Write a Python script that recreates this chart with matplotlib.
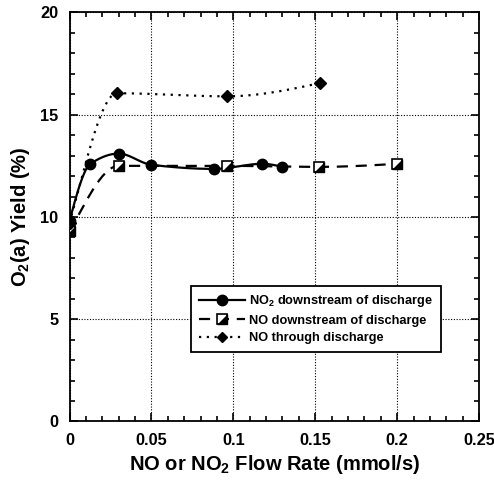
import numpy as np
import matplotlib
matplotlib.use("Agg")
import matplotlib.pyplot as plt
from matplotlib.ticker import MultipleLocator
from matplotlib.lines import Line2D

plt.rcParams['font.family'] = ['Liberation Sans', 'DejaVu Sans']
plt.rcParams['font.weight'] = 'bold'
plt.rcParams['mathtext.fontset'] = 'custom'
plt.rcParams['mathtext.default'] = 'bf'
plt.rcParams['mathtext.bf'] = 'Liberation Sans:bold'
plt.rcParams['mathtext.rm'] = 'Liberation Sans:bold'

# Data
no2_x = [0.0, 0.0128, 0.030, 0.050, 0.088, 0.1178, 0.130]
no2_y = [9.8, 12.6, 13.1, 12.55, 12.35, 12.6, 12.45]

nod_x = [0.0, 0.030, 0.096, 0.1525, 0.200]
nod_y = [9.3, 12.5, 12.5, 12.45, 12.6]

not_x = [0.0, 0.029, 0.096, 0.153]
not_y = [9.7, 16.05, 15.9, 16.55]

x_ticks = [0, 0.05, 0.1, 0.15, 0.2, 0.25]
x_ticklabels = ['0', '0.05', '0.1', '0.15', '0.2', '0.25']
y_ticks = [0, 5, 10, 15, 20]
labels = ['NO$_2$ downstream of discharge', 'NO downstream of discharge', 'NO through discharge']


def pchip(x, y, n=200):
    x = np.asarray(x, float); y = np.asarray(y, float)
    h = np.diff(x); d = np.diff(y) / h
    m = np.zeros_like(y)
    for k in range(1, len(x) - 1):
        if d[k - 1] * d[k] > 0:
            w1 = 2 * h[k] + h[k - 1]; w2 = h[k] + 2 * h[k - 1]
            m[k] = (w1 + w2) / (w1 / d[k - 1] + w2 / d[k])
    def endslope(h0, h1, d0, d1):
        s = ((2 * h0 + h1) * d0 - h0 * d1) / (h0 + h1)
        if np.sign(s) != np.sign(d0):
            s = 0.0
        elif np.sign(d0) != np.sign(d1) and abs(s) > abs(3 * d0):
            s = 3 * d0
        return s
    if len(x) > 2:
        m[0] = endslope(h[0], h[1], d[0], d[1])
        m[-1] = endslope(h[-1], h[-2], d[-1], d[-2])
    else:
        m[:] = d[0]
    xs = np.linspace(x[0], x[-1], n)
    idx = np.clip(np.searchsorted(x, xs) - 1, 0, len(h) - 1)
    t = (xs - x[idx]) / h[idx]
    h00 = 2 * t**3 - 3 * t**2 + 1
    h10 = t**3 - 2 * t**2 + t
    h01 = -2 * t**3 + 3 * t**2
    h11 = t**3 - t**2
    ys = h00 * y[idx] + h10 * h[idx] * m[idx] + h01 * y[idx + 1] + h11 * h[idx] * m[idx + 1]
    return xs, ys


fig = plt.figure(figsize=(4.94, 4.80), dpi=100)
ax = fig.add_axes([0.1407, 0.122, 0.829, 0.852])

# Curves
sx, sy = pchip(no2_x, no2_y)
ax.plot(sx, sy, '-', color='black', lw=1.6, zorder=3)
sx, sy = pchip(nod_x, nod_y)
ax.plot(sx, sy, color='black', lw=1.6, dashes=(5, 3.5), zorder=3)
sx, sy = pchip(not_x, not_y)
ax.plot(sx, sy, color='black', lw=1.6, dashes=(1, 2.5), zorder=3)

# Markers
ax.plot(no2_x, no2_y, 'o', color='black', ms=7.5, zorder=5)
ax.plot(nod_x, nod_y, 's', mfc='white', mec='black', mew=1.2, ms=7.5, zorder=5)
tri = [(-1, -1), (1, -1), (1, 1)]
ax.plot(nod_x, nod_y, marker=tri, ls='none', color='black', ms=7.5, zorder=6)
ax.plot(not_x, not_y, 'D', color='black', ms=6, zorder=5)

# Legend handles
h1 = Line2D([], [], color='black', lw=1.6, marker='o', ms=7.5)
h2a = Line2D([], [], color='black', lw=1.6, dashes=(5, 3.5), marker='s', mfc='white', mec='black', mew=1.2, ms=7)
h2b = Line2D([], [], ls='none', marker=tri, color='black', ms=7)
h3 = Line2D([], [], color='black', lw=1.6, dashes=(1, 2.5), marker='D', ms=5.5)
leg = ax.legend([h1, (h2a, h2b), h3], labels, loc='upper left',
                bbox_to_anchor=(0.297, 0.332), fontsize=9.2, frameon=True,
                fancybox=False, edgecolor='black', handlelength=3.6,
                borderpad=0.6, labelspacing=0.42, handletextpad=0.35, framealpha=1,
                borderaxespad=0)
leg.get_frame().set_linewidth(1.3)

ax.set_xlim(0, 0.25)
ax.set_ylim(0, 20)
ax.set_xticks(x_ticks)
ax.set_xticklabels(x_ticklabels)
ax.set_yticks(y_ticks)
ax.xaxis.set_minor_locator(MultipleLocator(0.01))
ax.yaxis.set_minor_locator(MultipleLocator(1))
ax.tick_params(which='both', direction='in', top=True, right=True, width=1.2, labelsize=11.8)
ax.tick_params(which='major', length=6, pad=8)
ax.tick_params(which='minor', length=3.5)
for lbl in ax.get_xticklabels() + ax.get_yticklabels():
    lbl.set_fontweight('bold')
for s in ax.spines.values():
    s.set_linewidth(1.3)
ax.grid(True, which='major', ls=(0, (1, 1.5)), color='black', lw=0.8)

ax.set_xlabel('NO or NO$_2$ Flow Rate (mmol/s)', fontsize=14.5, fontweight='bold', labelpad=4)
ax.set_ylabel('O$_2$(a) Yield (%)', fontsize=14.5, fontweight='bold', labelpad=6)

fig.savefig('out.png', dpi=100)
